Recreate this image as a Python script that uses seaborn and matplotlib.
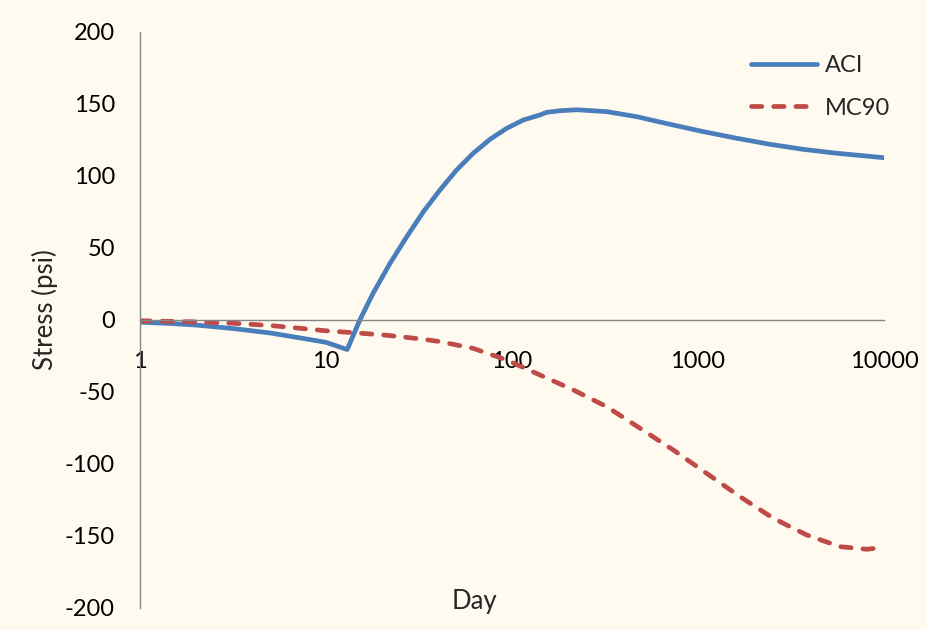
import matplotlib
matplotlib.use("Agg")
import matplotlib.pyplot as plt
import matplotlib.ticker as mticker
import pandas as pd
import seaborn as sns

# ACI model: stress history (psi) against age (days)
aci_day = [1, 1.5, 2, 3.2, 5, 7.3, 10, 13, 15.2, 17.9, 22.1, 27.2, 33.4, 41,
           50.4, 61.9, 76.2, 93.6, 115, 141.5, 153.6, 180, 222.8, 323, 468,
           707, 1068, 1615, 2438, 3683, 5565, 10000]
aci_stress = [-1.5, -2.5, -3.5, -6, -9, -12.5, -15.5, -20.5, 0, 18.5, 39.4,
              57.9, 75.2, 90.3, 104.2, 115.8, 125.5, 133.1, 138.9, 142.4,
              144.2, 145.3, 146, 144.7, 141.2, 135.9, 130.8, 126.2, 122,
              118.5, 115.8, 112.7]

# MC90 model
mc90_day = [1, 2, 3.2, 5, 7.3, 10, 14, 20.3, 26, 33.4, 41, 61.9, 93.6, 141.5,
            214, 323, 488, 737, 1113, 1683, 2541, 3840, 5796, 8075, 10000]
mc90_stress = [-0.5, -1.3, -2.3, -3.8, -5.8, -7.5, -8.8, -10.4, -11.8, -13.4,
               -15, -19.7, -27.8, -38.2, -48.6, -60.2, -75.2, -90.3, -106.5,
               -122.7, -137.7, -149.3, -157.4, -159.2, -157.9]

series_names = ["ACI", "MC90"]
x_ticks = [1, 10, 100, 1000, 10000]
y_ticks = [-200, -150, -100, -50, 0, 50, 100, 150, 200]

df = pd.concat([
    pd.DataFrame({"Day": aci_day, "Stress": aci_stress, "Model": "ACI"}),
    pd.DataFrame({"Day": mc90_day, "Stress": mc90_stress, "Model": "MC90"}),
], ignore_index=True)

sns.set_style("white")
plt.rcParams["font.family"] = ["Lato", "DejaVu Sans"]
plt.rcParams["axes.unicode_minus"] = False

bg = "#FEFAF0"
gray = "#868686"
palette = {"ACI": "#4A7EBB", "MC90": "#BE4B48"}

fig = plt.figure(figsize=(9.28, 6.30), dpi=100, facecolor=bg)
ax = fig.add_axes([140 / 928, 1 - 608 / 630, 744 / 928, 576 / 630])
ax.set_facecolor(bg)

sns.lineplot(data=df, x="Day", y="Stress", hue="Model", style="Model",
             palette=palette, dashes={"ACI": "", "MC90": (2.2, 2.5)},
             estimator=None, linewidth=3.4, legend=False, ax=ax)

for line in ax.get_lines():
    line.set_solid_capstyle("round")
    line.set_dash_capstyle("round")
    line.set_solid_joinstyle("round")

ax.set_xscale("log")
ax.set_xlim(1, 10000)
ax.set_ylim(-200, 200)
ax.xaxis.set_major_locator(mticker.FixedLocator(x_ticks))
ax.xaxis.set_minor_locator(mticker.NullLocator())
ax.xaxis.set_major_formatter(mticker.FixedFormatter([str(t) for t in x_ticks]))
ax.set_yticks(y_ticks)

for side in ["top", "right"]:
    ax.spines[side].set_visible(False)
ax.spines["bottom"].set_position(("data", 0))
for side in ["left", "bottom"]:
    ax.spines[side].set_color(gray)
    ax.spines[side].set_linewidth(1.0)

ax.tick_params(axis="both", which="major", direction="out", length=6,
               width=1.0, color=gray, labelsize=17, labelcolor="black")
ax.tick_params(axis="y", pad=12)
ax.tick_params(axis="x", pad=16)

ax.set_xlabel("Day", fontsize=18.5)
ax.xaxis.label.set_va("center")
ax.xaxis.set_label_coords((474 - 140) / 744, (608 - 602) / 576)
ax.set_ylabel("Stress (psi)", fontsize=18.5)
ax.yaxis.label.set_va("center")
ax.yaxis.set_label_coords((45 - 140) / 744, (608 - 310) / 576)

handles = ax.get_lines()[:2]
leg = ax.legend(handles, series_names, loc="upper left",
                bbox_to_anchor=(746 / 928, 1 - 50.5 / 630),
                bbox_transform=fig.transFigure, frameon=False, fontsize=17,
                handlelength=2.8, handletextpad=0.35, labelspacing=0.91,
                borderpad=0.2, borderaxespad=0)

fig.savefig("out.png", dpi=100, facecolor=bg)
